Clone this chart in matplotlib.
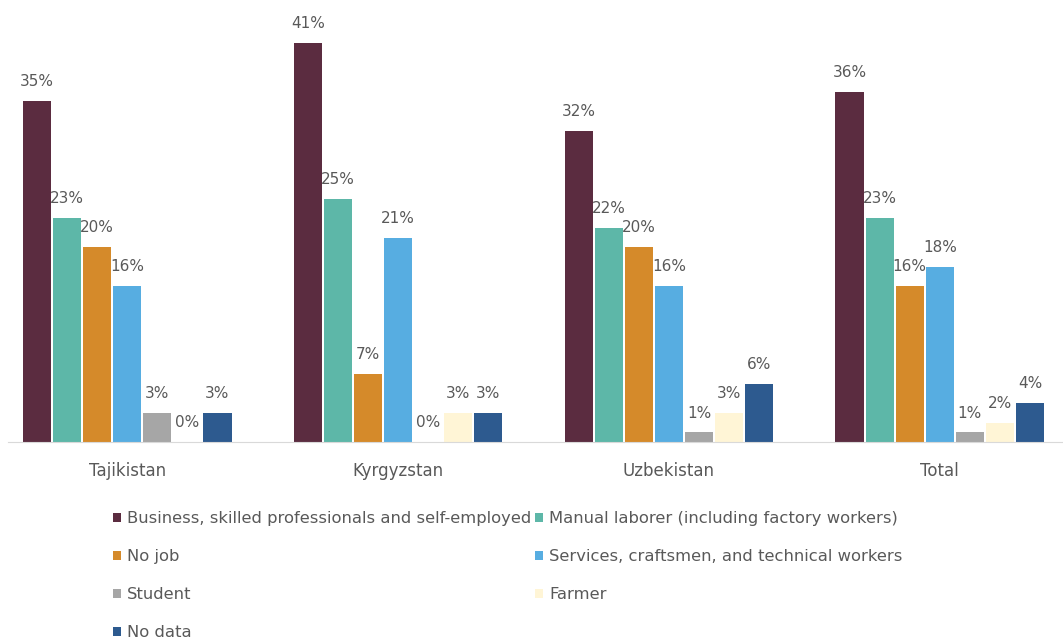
import matplotlib.pyplot as plt
import numpy as np

plt.rcParams['font.family'] = ['DejaVu Sans']

countries = ["Tajikistan", "Kyrgyzstan", "Uzbekistan", "Total"]
series_names = [
    "Business, skilled professionals and self-employed",
    "Manual laborer (including factory workers)",
    "No job",
    "Services, craftsmen, and technical workers",
    "Student",
    "Farmer",
    "No data",
]
business = [35, 41, 32, 36]
manual = [23, 25, 22, 23]
no_job = [20, 7, 20, 16]
services = [16, 21, 16, 18]
student = [3, 0, 1, 1]
farmer = [0, 3, 3, 2]
no_data = [3, 3, 6, 4]
colors = ["#5b2c40", "#5db7a8", "#d58a2a", "#57ade1", "#a6a6a6", "#fff5d6", "#2d5a8f"]

values = [business, manual, no_job, services, student, farmer, no_data]

fig = plt.figure(figsize=(10.63, 6.39), dpi=100)
ax = fig.add_axes([0, 0.308, 1, 0.692])

x = np.arange(len(countries))
w = 0.111
bars = []
for i, (vals, name, c) in enumerate(zip(values, series_names, colors)):
    pos = x + (i - 3) * w
    b = ax.bar(pos, vals, width=w * 0.94, color=c, label=name)
    bars.append(b)
    for px, v in zip(pos, vals):
        ax.annotate(f"{v}%", (px, v), xytext=(0, 14), textcoords="offset points",
                    ha="center", va="center", fontsize=11, color="#595959")

ax.set_xlim(-0.47, 3.455)
ax.set_ylim(0, 45.4)
ax.set_yticks([])
ax.set_xticks(x)
ax.set_xticklabels(countries, fontsize=12, color="#595959")
ax.tick_params(axis="x", length=0, pad=14)
for s in ["top", "right", "left"]:
    ax.spines[s].set_visible(False)
ax.spines["bottom"].set_color("#d9d9d9")
ax.spines["bottom"].set_bounds(-0.44, 3.455)

# legend fills column-wise, so reorder to read row by row
order = [0, 2, 4, 6, 1, 3, 5]
fig.legend([bars[i] for i in order], [series_names[i] for i in order],
           loc="upper left", bbox_to_anchor=(0.1, 0.21), ncol=2, frameon=False,
           fontsize=11.8, labelcolor="#595959", handlelength=0.5, handleheight=0.5,
           handletextpad=0.35, columnspacing=0.25, labelspacing=1.4,
           borderaxespad=0)

fig.savefig("out.png", dpi=100)
